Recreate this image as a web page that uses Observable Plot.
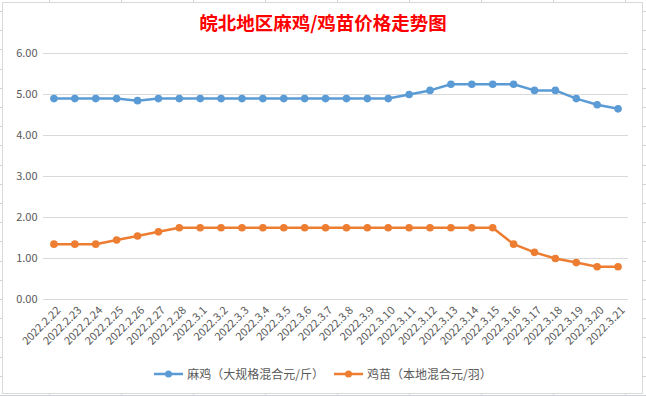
<!DOCTYPE html>
<html><head><meta charset="utf-8">
<script src="https://cdn.jsdelivr.net/npm/d3@7"></script>
<script src="https://cdn.jsdelivr.net/npm/@observablehq/plot@0.6"></script>
<style>
body{margin:0;background:#fff;font-family:"Noto Sans CJK SC",sans-serif;}
#wrap{position:relative;width:646px;height:396px;overflow:hidden;
  background-color:#fff;
  background-image:
    repeating-linear-gradient(to right, transparent 0, transparent 49px, #d0d0d8 49px, #d0d0d8 50px, transparent 50px, transparent 72px),
    repeating-linear-gradient(to bottom, transparent 0, transparent 11px, #d0d0d8 11px, #d0d0d8 12px, transparent 12px, transparent 19.2px);
}
#frame{position:absolute;left:2px;top:2px;width:641px;height:392px;border:1px solid #d9d9d9;box-sizing:border-box;background:#fff;}
#title{position:absolute;left:0;width:646px;top:11px;text-align:center;font-size:18.5px;line-height:22px;font-weight:700;color:#ff0000;}
#chart{position:absolute;left:0;top:0;}
#legend{position:absolute;left:0;width:646px;top:365px;display:flex;justify-content:center;gap:10px;font-size:12px;color:#595959;line-height:18px;}
.item{display:flex;align-items:center;gap:4px;}
</style>
</head><body>
<div id="wrap">
  <div id="frame"></div>
  <div id="chart"></div>
  <div id="title"></div>
  <div id="legend"></div>
</div>
<script>
const titleText = "皖北地区麻鸡/鸡苗价格走势图";
const dates = ["2022.2.22","2022.2.23","2022.2.24","2022.2.25","2022.2.26","2022.2.27","2022.2.28",
  "2022.3.1","2022.3.2","2022.3.3","2022.3.4","2022.3.5","2022.3.6","2022.3.7","2022.3.8","2022.3.9",
  "2022.3.10","2022.3.11","2022.3.12","2022.3.13","2022.3.14","2022.3.15","2022.3.16","2022.3.17",
  "2022.3.18","2022.3.19","2022.3.20","2022.3.21"];
const seriesNames = ["麻鸡（大规格混合元/斤）","鸡苗（本地混合元/羽）"];
const majiValues = [4.9,4.9,4.9,4.9,4.85,4.9,4.9,4.9,4.9,4.9,4.9,4.9,4.9,4.9,4.9,4.9,4.9,
  5.0,5.1,5.25,5.25,5.25,5.25,5.1,5.1,4.9,4.75,4.65];
const jimiaoValues = [1.35,1.35,1.35,1.45,1.55,1.65,1.75,1.75,1.75,1.75,1.75,1.75,1.75,1.75,1.75,1.75,
  1.75,1.75,1.75,1.75,1.75,1.75,1.35,1.15,1.0,0.9,0.8,0.8];
const yTicks = [0,1,2,3,4,5,6];
const colors = ["#5b9bd5","#ed7d31"];

document.getElementById("title").textContent = titleText;

const data = [];
dates.forEach((d,i)=>{
  data.push({date:d, value:majiValues[i], series:seriesNames[0]});
  data.push({date:d, value:jimiaoValues[i], series:seriesNames[1]});
});

const plot = Plot.plot({
  width:646, height:362,
  marginTop:53, marginBottom:63, marginLeft:43, marginRight:18,
  style:{fontFamily:'"Noto Sans CJK SC", sans-serif', fontSize:"11px", color:"#595959", background:"transparent"},
  x:{type:"point", domain:dates, padding:0.5, round:false, label:null},
  y:{domain:[0,6], label:null},
  color:{domain:seriesNames, range:colors},
  marks:[
    Plot.ruleY(yTicks, {stroke:"#d9d9d9", strokeWidth:1}),
    Plot.axisY({ticks:yTicks, tickFormat:d3.format(".2f"), tickSize:0, tickPadding:6, label:null}),
    Plot.axisX({tickRotate:-45, tickSize:0, tickPadding:9, dx:5, label:null}),
    Plot.line(data, {x:"date", y:"value", stroke:"series", strokeWidth:2.5}),
    Plot.dot(data, {x:"date", y:"value", fill:"series", r:3.8})
  ]
});
document.getElementById("chart").appendChild(plot);

const legend = document.getElementById("legend");
seriesNames.forEach((name,i)=>{
  const item = document.createElement("div");
  item.className = "item";
  item.innerHTML = `<svg width="29" height="10"><line x1="0" y1="5" x2="29" y2="5" stroke="${colors[i]}" stroke-width="2.5"/><circle cx="14.5" cy="5" r="3.5" fill="${colors[i]}"/></svg><span></span>`;
  item.querySelector("span").textContent = name;
  legend.appendChild(item);
});
</script>
</body></html>
